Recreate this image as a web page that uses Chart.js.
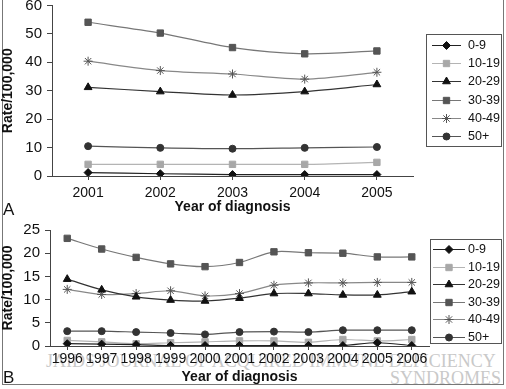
<!DOCTYPE html>
<html lang="en">
<head>
  <meta charset="UTF-8" />
  <title>Rate/100,000 by age group and year of diagnosis</title>
  <style>
    body { margin: 0; background: #fff; }
    #page {
      position: relative;
      width: 506px; height: 389px;
      overflow: hidden;
      font-family: 'Liberation Sans', Arial, sans-serif;
    }
    #frame {
      position: absolute; left: 2px; top: -2px;
      width: 500px; height: 386px;
      border: 1px solid #777; border-top: none;
    }
    canvas { position: absolute; left: 0; }
    #chartA { top: 0; }
    #chartB { top: 218px; }
    .panel {
      position: absolute; left: 3px;
      font-size: 17px; line-height: 17px; color: #111;
    }
    .wm {
      position: absolute;
      font-family: 'Liberation Serif', 'DejaVu Serif', serif;
      font-size: 18px; line-height: 18px;
      color: #c9c9c9;
      white-space: nowrap;
    }
  </style>
</head>
<body>
<div id="page">
  <div class="wm" style="left:46px; top:352px;">JAIDS JOURNAL OF ACQUIRED IMMUNE DEFICIENCY</div>
  <div class="wm" style="right:5px; top:369px;">SYNDROMES</div>
  <div id="frame"></div>
  <canvas id="chartA" width="506" height="218"></canvas>
  <canvas id="chartB" width="506" height="171"></canvas>
  <div class="panel" style="top:201px;">A</div>
  <div class="panel" style="top:369px;">B</div>
</div>

<script src="https://cdn.jsdelivr.net/npm/chart.js"></script>
<script>
  // Panel A: 2001-2005
  const yearsA = ['2001', '2002', '2003', '2004', '2005'];
  const rateA_0_9   = [1.2, 0.8, 0.5, 0.5, 0.5];
  const rateA_10_19 = [4.1, 4.1, 4.1, 4.1, 4.8];
  const rateA_20_29 = [31.2, 29.7, 28.5, 29.7, 32.2];
  const rateA_30_39 = [54.1, 50.3, 45.2, 43.0, 44.0];
  const rateA_40_49 = [40.4, 37.1, 35.9, 34.1, 36.5];
  const rateA_50    = [10.5, 9.9, 9.6, 9.9, 10.2];

  // Panel B: 1996-2006
  const yearsB = ['1996', '1997', '1998', '1999', '2000', '2001', '2002', '2003', '2004', '2005', '2006'];
  const rateB_0_9   = [0.5, 0.4, 0.3, 0.1, 0.1, 0.1, 0.1, 0.1, 0.1, 0.7, 0.1];
  const rateB_10_19 = [1.2, 0.9, 0.5, 0.7, 0.9, 1.1, 1.1, 0.8, 1.4, 1.1, 1.4];
  const rateB_20_29 = [14.4, 12.1, 10.6, 9.9, 9.7, 10.3, 11.3, 11.3, 11.0, 11.0, 11.7];
  const rateB_30_39 = [23.2, 20.9, 19.1, 17.7, 17.1, 18.0, 20.3, 20.1, 20.0, 19.2, 19.2];
  const rateB_40_49 = [12.2, 11.1, 11.3, 11.9, 10.8, 11.3, 13.1, 13.6, 13.6, 13.7, 13.7];
  const rateB_50    = [3.2, 3.2, 3.0, 2.8, 2.5, 3.0, 3.1, 3.0, 3.4, 3.4, 3.4];

  const ageGroups = ['0-9', '10-19', '20-29', '30-39', '40-49', '50+'];

  // marker / line look per age group
  const looks = [
    { line: '#222', fill: '#111', edge: '#111', style: 'rectRot',  r: 4 },
    { line: '#b4b4b4', fill: '#a8a8a8', edge: '#a8a8a8', style: 'rect', r: 4.5 },
    { line: '#333', fill: '#111', edge: '#111', style: 'triangle', r: 4.5 },
    { line: '#777', fill: '#555', edge: '#555', style: 'rect', r: 4.5 },
    { line: '#888', fill: '#555', edge: '#555', style: 'star', r: 4.5 },
    { line: '#555', fill: '#333', edge: '#333', style: 'circle', r: 3.5 }
  ];

  Chart.defaults.font.family = "'Liberation Sans', Arial, sans-serif";
  Chart.defaults.color = '#111';

  // boxed legend at a fixed spot, drawn from the datasets
  const boxLegend = {
    id: 'boxLegend',
    afterDraw(chart, args, o) {
      const ctx = chart.ctx;
      ctx.save();
      ctx.strokeStyle = '#555';
      ctx.lineWidth = 1;
      ctx.strokeRect(o.x + 0.5, o.y + 0.5, o.w, o.h);
      chart.data.datasets.forEach((ds, i) => {
        const y = Math.round(o.rowY + i * o.rowH);
        ctx.strokeStyle = ds.borderColor;
        ctx.lineWidth = 1;
        ctx.beginPath();
        ctx.moveTo(o.lineX0, y + 0.5);
        ctx.lineTo(o.lineX1, y + 0.5);
        ctx.stroke();
        ctx.fillStyle = ds.pointBackgroundColor;
        ctx.strokeStyle = ds.pointBorderColor;
        Chart.helpers.drawPoint(ctx, {
          pointStyle: ds.pointStyle, radius: ds.pointRadius, borderWidth: 1, rotation: 0
        }, (o.lineX0 + o.lineX1) / 2, y + 0.5);
        ctx.fillStyle = '#111';
        ctx.font = o.font;
        ctx.textAlign = 'left';
        ctx.textBaseline = 'middle';
        ctx.fillText(ds.label, o.textX, y + 1);
      });
      ctx.restore();
    }
  };

  function makeDatasets(series) {
    return series.map((vals, i) => ({
      label: ageGroups[i],
      data: vals,
      borderColor: looks[i].line,
      borderWidth: 1.2,
      pointStyle: looks[i].style,
      pointRadius: looks[i].r,
      pointBackgroundColor: looks[i].fill,
      pointBorderColor: looks[i].edge,
      pointBorderWidth: 1,
      tension: 0.3,
      fill: false
    }));
  }

  function makeChart(id, labels, series, c) {
    return new Chart(document.getElementById(id), {
      type: 'line',
      data: { labels: labels, datasets: makeDatasets(series) },
      plugins: [boxLegend],
      options: {
        responsive: false,
        animation: false,
        layout: { padding: { left: 0, right: c.padRight, top: c.padTop, bottom: 0 } },
        plugins: {
          legend: { display: false },
          tooltip: { enabled: false },
          boxLegend: c.legend
        },
        scales: {
          x: {
            offset: true,
            grid: { drawOnChartArea: false, drawTicks: true, tickLength: 4, color: '#444' },
            border: { color: '#444' },
            ticks: { autoSkip: false, maxRotation: 0, padding: c.xTickPad, font: { size: 14 }, color: '#111' },
            title: { display: true, text: 'Year of diagnosis', font: { size: 14, weight: 'bold' },
                     color: '#111', padding: { top: 0, bottom: c.titlePad } },
            afterFit(s) { s.height = c.axisH; s.paddingLeft = 0; s.paddingRight = 0; }
          },
          y: {
            min: 0, max: c.yMax,
            ticks: { stepSize: c.yStep, padding: 5, font: { size: 15 }, color: '#111' },
            grid: { drawOnChartArea: false, drawTicks: true, tickLength: 5, color: '#444' },
            border: { color: '#444' },
            title: { display: true, text: 'Rate/100,000', font: { size: 14, weight: 'bold' },
                     color: '#111', padding: 0 },
            afterFit(s) { s.width = c.axisW; s.paddingTop = 0; s.paddingBottom = 0; }
          }
        }
      }
    });
  }

  makeChart('chartA', yearsA,
    [rateA_0_9, rateA_10_19, rateA_20_29, rateA_30_39, rateA_40_49, rateA_50],
    { yMax: 60, yStep: 10, padRight: 93, padTop: 5, axisW: 52, axisH: 42, xTickPad: 5, titlePad: 2,
      legend: { x: 426, y: 34, w: 75, h: 112, rowY: 45, rowH: 18.2,
                lineX0: 432, lineX1: 461, textX: 468, font: "12.5px 'Liberation Sans', Arial, sans-serif" } });

  makeChart('chartB', yearsB,
    [rateB_0_9, rateB_10_19, rateB_20_29, rateB_30_39, rateB_40_49, rateB_50],
    { yMax: 25, yStep: 5, padRight: 77, padTop: 12, axisW: 50, axisH: 43, xTickPad: 1, titlePad: 3,
      legend: { x: 430, y: 21, w: 71, h: 104, rowY: 31, rowH: 17.6,
                lineX0: 433, lineX1: 465, textX: 468, font: "12.5px 'Liberation Sans', Arial, sans-serif" } });
</script>
</body>
</html>
